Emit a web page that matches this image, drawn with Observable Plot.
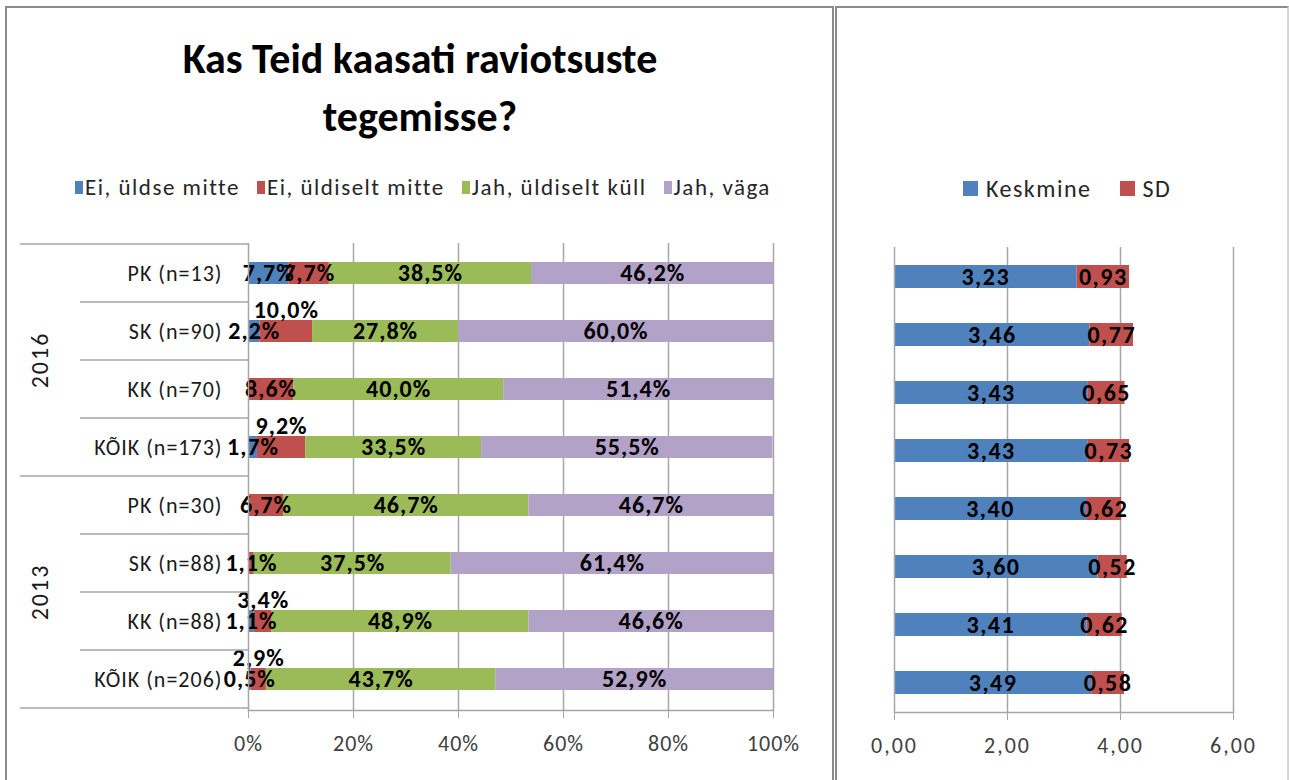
<!DOCTYPE html>
<html>
<head>
<meta charset="utf-8">
<script src="https://cdn.jsdelivr.net/npm/d3@7"></script>
<script src="https://cdn.jsdelivr.net/npm/@observablehq/plot@0.6"></script>
<style>
  body { margin: 0; background: #fff; }
  #page { position: relative; width: 1289px; height: 780px; overflow: hidden; background: #fff;
          font-family: Carlito, "Liberation Sans Narrow", "Open Sans", sans-serif; color: #000; }
  .panel { position: absolute; border: 2px solid #8c8c8c; box-sizing: border-box; }
  #title { position: absolute; left: 0; width: 840px; top: 30px; text-align: center;
           font-size: 42px; font-weight: bold; line-height: 58px; }
  .legend { position: absolute; display: flex; justify-content: flex-start; align-items: center;
            font-size: 23px; letter-spacing: 1.5px; color: #262626; }
  .legend .item { display: flex; align-items: center; margin-right: 17px; }
  #legL .sw { width: 8px; height: 13px; margin-right: 2px; }
  #legR .item { margin-right: 28px; }
  #legR .sw { width: 15px; height: 15px; margin-right: 8px; }
  .chart { position: absolute; top: 220px; }
</style>
</head>
<body>
<div id="page">
  <div class="panel" style="left:5px;top:6px;width:829px;height:800px"></div>
  <div class="panel" style="left:835px;top:6px;width:454px;height:800px;border-right-color:#d4d4d4"></div>
  <div id="title">Kas Teid kaasati raviotsuste<br>tegemisse?</div>
  <div class="legend" id="legL" style="left:75px;width:760px;top:173px;height:28px"></div>
  <div class="legend" id="legR" style="left:963px;width:320px;top:174px;height:28px;font-size:24px"></div>
  <div class="chart" id="chartL" style="left:0"></div>
  <div class="chart" id="chartR" style="left:837px"></div>
</div>
<script>
// ---------- data ----------
const years = ["2016", "2016", "2016", "2016", "2013", "2013", "2013", "2013"];
const groups = ["PK (n=13)", "SK (n=90)", "KK (n=70)", "KÕIK (n=173)", "PK (n=30)", "SK (n=88)", "KK (n=88)", "KÕIK (n=206)"];
const answers = ["Ei, üldse mitte", "Ei, üldiselt mitte", "Jah, üldiselt küll", "Jah, väga"];
const eiYldseMitte = [7.7, 2.2, 0, 1.7, 0, 0, 1.1, 0.5];
const eiYldiseltMitte = [7.7, 10.0, 8.6, 9.2, 6.7, 1.1, 3.4, 2.9];
const jahYldiseltKyll = [38.5, 27.8, 40.0, 33.5, 46.7, 37.5, 48.9, 43.7];
const jahVaga = [46.2, 60.0, 51.4, 55.5, 46.7, 61.4, 46.6, 52.9];
const answerColors = ["#4F81BD", "#C0504D", "#9BBB59", "#B3A2C7"];
const pctTicks = [0, 20, 40, 60, 80, 100];

const statNames = ["Keskmine", "SD"];
const keskmine = [3.23, 3.46, 3.43, 3.43, 3.40, 3.60, 3.41, 3.49];
const sdValues = [0.93, 0.77, 0.65, 0.73, 0.62, 0.52, 0.62, 0.58];
const statColors = ["#4F81BD", "#C0504D"];
const statTicks = [0, 2, 4, 6];

// labels that the original moved above their bar
const raisedLabels = new Set([
  "2016|SK (n=90)|Ei, üldiselt mitte",
  "2016|KÕIK (n=173)|Ei, üldiselt mitte",
  "2013|KK (n=88)|Ei, üldiselt mitte",
  "2013|KÕIK (n=206)|Ei, üldiselt mitte"
]);

// ---------- build tables ----------
const FONT = 'Carlito, "Liberation Sans Narrow", "Open Sans", sans-serif';
const rows = groups.map((g, i) => years[i] + "|" + g);
const seriesL = [eiYldseMitte, eiYldiseltMitte, jahYldiseltKyll, jahVaga];
const dataL = rows.flatMap((r, i) => answers.map((a, j) => ({row: r, answer: a, value: seriesL[j][i]})));
const seriesR = [keskmine, sdValues];
const dataR = rows.flatMap((r, i) => statNames.map((s, j) => ({row: r, stat: s, value: seriesR[j][i]})));

const fmtPct = v => v.toFixed(1).replace(".", ",") + "%";
const fmtNum = v => v.toFixed(2).replace(".", ",");
const isRaised = d => raisedLabels.has(d.row + "|" + d.answer);
const GRID = "#a6a6a6";
const LABEL = {fontSize: 24, fontWeight: "bold", fill: "#000"};

// ---------- legends ----------
function legend(id, names, colors) {
  const el = document.getElementById(id);
  names.forEach((n, i) => {
    const it = document.createElement("div"); it.className = "item";
    const sw = document.createElement("div"); sw.className = "sw"; sw.style.background = colors[i];
    const tx = document.createElement("span"); tx.textContent = n;
    it.appendChild(sw); it.appendChild(tx); el.appendChild(it);
  });
}
legend("legL", answers, answerColors);
legend("legR", statNames, statColors);

// ---------- left chart ----------
const chartL = Plot.plot({
  width: 833, height: 560,
  marginLeft: 248, marginRight: 60, marginTop: 23, marginBottom: 70,
  style: {fontFamily: FONT, background: "transparent", overflow: "visible"},
  x: {domain: [0, 100]},
  y: {domain: rows, paddingInner: 0.62, paddingOuter: 0.31},
  color: {domain: answers, range: answerColors},
  marks: [
    Plot.gridX(pctTicks.filter(t => t > 0), {stroke: GRID, strokeOpacity: 1, strokeWidth: 1.5}),
    Plot.barX(dataL, {x: "value", y: "row", fill: "answer", z: "answer"}),
    Plot.text(dataL, Plot.stackX({x: "value", y: "row", z: "answer",
      text: d => d.value > 0 && !isRaised(d) ? fmtPct(d.value) : "", ...LABEL})),
    Plot.text(dataL, Plot.stackX({x: "value", y: "row", z: "answer",
      text: d => d.value > 0 && isRaised(d) ? fmtPct(d.value) : "", ...LABEL, dy: -21})),
    Plot.ruleX([0], {stroke: GRID, strokeWidth: 1.5}),
    Plot.frame({anchor: "bottom", stroke: GRID, strokeWidth: 1.5}),
    Plot.axisX({ticks: pctTicks, tickFormat: d => d + "%", tickSize: 8, tickPadding: 17,
      fontSize: 22, stroke: GRID, fill: "#404040", label: null}),
    Plot.axisY({tickFormat: d => d.split("|")[1], tickSize: 0, tickPadding: 26,
      fontSize: 22, fill: "#1a1a1a", label: null})
  ]
});
document.getElementById("chartL").appendChild(chartL);

// letter spacing on axis and data labels
d3.select(chartL).selectAll("[aria-label='x-axis tick label'] text, [aria-label='y-axis tick label'] text")
  .attr("letter-spacing", "1px");
d3.select(chartL).selectAll("g[aria-label='text'] text").attr("letter-spacing", "1px");

// category table lines and year group labels, placed through the y scale
(function () {
  const ys = chartL.scale("y");
  const gap = (ys.step - ys.bandwidth) / 2;
  const svg = d3.select(chartL);
  const g = svg.append("g");
  const xAxis = 248;
  rows.forEach((r, i) => {
    const top = ys.apply(r) - gap;
    const yearStart = i === 0 || years[i] !== years[i - 1];
    g.append("line").attr("x1", yearStart ? 20 : 80).attr("x2", xAxis)
      .attr("y1", top).attr("y2", top).attr("stroke", GRID).attr("stroke-width", 1.5);
  });
  const last = rows[rows.length - 1];
  const bottom = ys.apply(last) + ys.bandwidth + gap;
  g.append("line").attr("x1", 20).attr("x2", xAxis).attr("y1", bottom).attr("y2", bottom)
    .attr("stroke", GRID).attr("stroke-width", 1.5);
  const yearList = Array.from(new Set(years));
  yearList.forEach(yr => {
    const idx = rows.map((r, i) => i).filter(i => years[i] === yr);
    const y0 = ys.apply(rows[idx[0]]) - gap;
    const y1 = ys.apply(rows[idx[idx.length - 1]]) + ys.bandwidth + gap;
    const cy = (y0 + y1) / 2;
    g.append("text").attr("transform", `translate(42,${cy}) rotate(-90)`)
      .attr("text-anchor", "middle").attr("dominant-baseline", "middle")
      .attr("font-size", 24).attr("letter-spacing", "2px")
      .attr("fill", "#1a1a1a").attr("font-family", FONT).text(yr);
  });
})();

// ---------- right chart ----------
const chartR = Plot.plot({
  width: 448, height: 560,
  marginLeft: 57, marginRight: 52, marginTop: 27, marginBottom: 68,
  style: {fontFamily: FONT, background: "transparent", overflow: "visible"},
  x: {domain: [0, 6]},
  y: {domain: rows, paddingInner: 0.6, paddingOuter: 0.3, axis: null},
  color: {domain: statNames, range: statColors},
  marks: [
    Plot.gridX(statTicks.filter(t => t > 0), {stroke: GRID, strokeOpacity: 1, strokeWidth: 1.5}),
    Plot.barX(dataR, {x: "value", y: "row", fill: "stat", z: "stat"}),
    Plot.text(dataR, Plot.stackX({x: "value", y: "row", z: "stat",
      text: d => fmtNum(d.value), ...LABEL})),
    Plot.ruleX([0], {stroke: GRID, strokeWidth: 1.5}),
    Plot.frame({anchor: "bottom", stroke: GRID, strokeWidth: 1.5}),
    Plot.axisX({ticks: statTicks, tickFormat: fmtNum, tickSize: 8, tickPadding: 17,
      fontSize: 22, stroke: GRID, fill: "#404040", label: null})
  ]
});
document.getElementById("chartR").appendChild(chartR);
d3.select(chartR).selectAll("[aria-label='x-axis tick label'] text").attr("letter-spacing", "2px");
d3.select(chartR).selectAll("g[aria-label='text'] text").attr("letter-spacing", "1.5px");
</script>
</body>
</html>
